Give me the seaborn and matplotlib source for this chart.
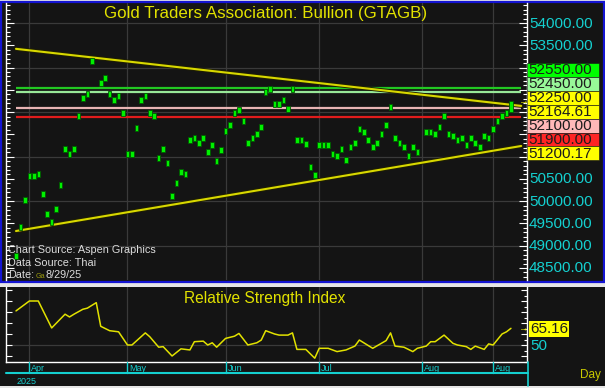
import numpy as np
import pandas as pd
import matplotlib
matplotlib.use("Agg")
import matplotlib.pyplot as plt
import matplotlib.patheffects as pe
from matplotlib.patches import Rectangle
from matplotlib.ticker import MultipleLocator
import seaborn as sns

# ---------------- data ----------------
dates = pd.bdate_range("2025-03-27", "2025-08-29")
nan = np.nan
price_mid = [48770, 49420, 50030, 50570, 50570, 50610, 50160, 49710, 49530, 49820,
             50360, 51170, 51060, 51170, 51910, 52320, 52410, 53150, 54550, 52650,
             52770, 52410, 52270, 52360, 51980, 51060, 51060, 51640, 52270, 52360,
             51980, 51910, 50970, 51170, 50860, 50120, 50410, 50660, 50610, 51370,
             51420, 51310, 51420, 51100, 51260, 50900, 51150, 51580, 51710, 51980,
             52050, 51800, 51310, 51420, 51510, 51670, 52450, 52520, 52180, 52180,
             52270, 52070, 52520, 51370, 51370, 51280, 50770, 50590, 51260, 51260,
             51260, 51060, 51010, 51170, 50920, 51220, 51310, 51620, 51550, 51370,
             51220, 51310, 51510, 51710, 52110, 51420, 51310, 51220, 51010, 51220,
             51100, nan, 51550, 51550, 51510, 51670, 51910, 51510, 51460, 51370,
             51420, 51260, 51420, 51310, 51220, 51460, 51420, 51620, 51800, 51910,
             51980, 52125]
last_bar_low, last_bar_high = 52000, 52250

upper_trend = [53420, 52164.61]   # at first and last bar
lower_trend = [49330, 51200.17]

level_values = [52550, 52450, 52100, 51900]
level_colors = ["#22c822", "#98e898", "#e8b4b4", "#e01c1c"]

tag_values = [52550.00, 52450.00, 52250.00, 52164.61, 52100.00, 51900.00, 51200.17]
tag_colors = ["#00ff00", "#98f898", "#ffff00", "#ffff00", "#ffb8b8", "#ff2424", "#ffff00"]

axis_labels = [54000, 53500, 50500, 50000, 49500, 49000, 48500]
grid_prices = [49000, 50000, 51000, 52000, 53000, 54000]

rsi_days = [0, 3, 5, 8, 11, 12, 13, 15, 16, 18, 19, 21, 23, 25, 26, 29, 30, 32, 33, 35,
            37, 39, 40, 42, 43, 44, 45, 47, 49, 50, 52, 54, 55, 56, 58, 59, 61, 62, 63, 65,
            67, 68, 70, 72, 74, 76, 77, 78, 80, 83, 84, 85, 87, 89, 90, 92, 93, 94, 96, 98,
            99, 101, 102, 103, 105, 106, 107, 109, 110, 111]
rsi_values = [81, 90, 90, 65.5, 78, 75.5, 78, 82.5, 83.5, 88.5, 67, 63, 62, 50, 50, 61, 57.5, 48, 48.5, 40,
              46.5, 45.5, 53, 53.5, 50, 52, 48, 56, 58, 60.5, 50, 52, 54.5, 63, 60, 59, 59, 61, 46, 46,
              38, 47, 47, 44, 45.5, 49, 54.5, 52, 47, 54, 61, 49, 48, 44, 47, 49, 53, 53, 59, 51.5,
              50, 48.5, 46, 49, 46, 51, 50, 60, 62, 65.16]
rsi_last = 65.16

month_days = [3, 25, 47, 68, 91, 107]
month_labels = ["Apr", "May", "Jun", "Jul", "Aug", "Aug"]
year_label = "2025"

title = "Gold Traders Association: Bullion (GTAGB)"
rsi_title = "Relative Strength Index"
source_lines = ["Chart Source: Aspen Graphics", "Data Source: Thai"]
date_label, date_value, overlay_fragment = "Date:", "8/29/25", "Ga"

# ---------------- style / layout ----------------
sns.set_style("dark")
plt.rcParams["font.family"] = ["Liberation Sans", "DejaVu Sans"]

W, H = 605, 388
BG = "#141414"
GRID = "#3a3a3a"
YEL = "#e2e200"
CYAN = "#14d0d0"
LABEL_FS = 11

def frac(x0, y0, x1, y1):
    return [x0 / W, 1 - y1 / H, (x1 - x0) / W, (y1 - y0) / H]

def price_at_px(y):
    return 54000 - (y - 23) / 0.044545

def slot_at_px(x):
    return (x - 16) / 4.459

def rsi_at_px(y):
    return 50 + (345 - y) / 1.1

fig = plt.figure(figsize=(W / 100, H / 100), dpi=100)
fig.patch.set_facecolor("#e6e6e6")

bg = fig.add_axes([0, 0, 1, 1], zorder=-5)
bg.set_xlim(0, W); bg.set_ylim(H, 0); bg.axis("off")
bg.add_patch(Rectangle((0, 0.5), W, 282.5, fc=BG, ec="none"))
bg.add_patch(Rectangle((0, 287), W, 98.5, fc=BG, ec="none"))
bg.add_patch(Rectangle((1, 1.8), W - 2.5, 280.2, fill=False, ec="#1414d2", lw=1.6))

# ---- main price panel ----
ax = fig.add_axes(frac(6, 3, 527, 280))
ax.set_facecolor("none")
ax.set_xlim(slot_at_px(6), slot_at_px(527))
ax.set_ylim(price_at_px(280), price_at_px(3))

x = np.arange(len(dates))
for d in month_days:
    ax.axvline(d, color=GRID, lw=0.9, zorder=0)
for g in grid_prices:
    ax.axhline(g, color=GRID, lw=0.9, zorder=0)

ax.hlines(level_values, 0, 113.3, colors=level_colors, lw=1.6, zorder=2)

ext = np.array([0, 113.3])
for tl in (upper_trend, lower_trend):
    slope = (tl[1] - tl[0]) / (len(dates) - 1)
    ax.plot(ext, tl[0] + slope * ext, color="#d8d800", lw=1.5, zorder=3,
            path_effects=[pe.Stroke(linewidth=2.8, foreground="#202000"), pe.Normal()])

mid = np.array(price_mid, dtype=float)
body = np.full(len(mid), 130.0)
lo = mid - body / 2
lo[-1] = last_bar_low
body[-1] = last_bar_high - last_bar_low
ok = ~np.isnan(mid)
ax.bar(x[ok], body[ok], bottom=lo[ok], width=0.8, color="#00f000",
       edgecolor="#005a00", linewidth=0.6, zorder=4)

ax.yaxis.set_major_locator(MultipleLocator(500))
ax.yaxis.set_minor_locator(MultipleLocator(100))
ax.tick_params(axis="y", which="both", direction="in", left=True, right=True,
               labelleft=False, labelright=False, colors="white", width=0.8)
ax.tick_params(axis="y", which="major", length=6)
ax.tick_params(axis="y", which="minor", length=3)
ax.tick_params(axis="x", which="both", bottom=False, labelbottom=False)
for s in ("top", "bottom"):
    ax.spines[s].set_visible(False)
for s in ("left", "right"):
    ax.spines[s].set_color("white"); ax.spines[s].set_linewidth(1.0)
ax.grid(False)

# ---- RSI panel ----
axs = fig.add_axes(frac(6, 287, 527, 362))
axs.set_facecolor("none")
axs.set_xlim(slot_at_px(6), slot_at_px(527))
axs.set_ylim(rsi_at_px(362), rsi_at_px(287))
for d in month_days:
    axs.axvline(d, color=GRID, lw=0.9, zorder=0)
axs.axhline(50, color=GRID, lw=0.9, zorder=0)
sns.lineplot(x=rsi_days, y=rsi_values, ax=axs, color=YEL, linewidth=1.1, zorder=3)
axs.set_xlabel(""); axs.set_ylabel("")
axs.yaxis.set_major_locator(MultipleLocator(10))
axs.yaxis.set_minor_locator(MultipleLocator(5))
axs.tick_params(axis="y", which="both", direction="in", left=True, right=True,
                labelleft=False, labelright=False, colors="white", width=0.8)
axs.tick_params(axis="y", which="major", length=4)
axs.tick_params(axis="y", which="minor", length=2.5, left=False)
axs.tick_params(axis="x", which="both", bottom=False, labelbottom=False)
axs.spines["top"].set_visible(False)
for s in ("left", "right", "bottom"):
    axs.spines[s].set_color("white"); axs.spines[s].set_linewidth(1.0)
axs.grid(False)

# ---- overlay for texts (pixel coordinates) ----
ov = fig.add_axes([0, 0, 1, 1], zorder=10)
ov.set_xlim(0, W); ov.set_ylim(H, 0); ov.axis("off")

def to_px(axis, xv, yv):
    dx, dy = axis.transData.transform((xv, yv))
    return dx, H - dy

ov.text(266, 13.5, title, color=YEL, fontsize=12.2, ha="center", va="center")
ov.text(265, 298, rsi_title, color=YEL, fontsize=11.2, ha="center", va="center")

for i, line in enumerate(source_lines):
    ov.text(8, 250 + i * 12.5, line, color="#dcdcdc", fontsize=7.8, va="center")
ov.text(8, 275, date_label, color="#dcdcdc", fontsize=7.8, va="center")
ov.text(35.5, 276, overlay_fragment, color="#9a9a10", fontsize=5.2, va="center")
ov.text(46, 275, date_value, color="#dcdcdc", fontsize=7.8, va="center")

for v in axis_labels:
    _, yy = to_px(ax, 0, v)
    ov.text(529, yy + 0.5, f"{v:.2f}", color=CYAN, fontsize=LABEL_FS, va="center", ha="left")

TAG_TOP, TAG_H = 63, 13.9
for i, (v, c) in enumerate(zip(tag_values, tag_colors)):
    y0 = TAG_TOP + i * TAG_H
    ov.add_patch(Rectangle((527, y0), 72, TAG_H, fc=c, ec=BG, lw=0.4, zorder=2))
    ov.text(528.5, y0 + TAG_H / 2 + 0.5, f"{v:.2f}", color="#1c1c1c",
            fontsize=LABEL_FS, va="center", zorder=3)

# arrows at last values
px_last, py_last = to_px(ax, 112.6, tag_values[2])
ov.text(px_last, py_last, "→", color=YEL, fontsize=7, va="center", ha="left")
px_r, py_r = to_px(axs, 112.6, rsi_last)
ov.text(px_r, py_r, "→", color=YEL, fontsize=7, va="center", ha="left")

# RSI labels
ov.text(530, py_r + 0.5, f"{rsi_last:.2f}", color="#1c1c1c", fontsize=LABEL_FS, va="center",
        bbox=dict(fc="#ffff00", ec="none", boxstyle="square,pad=0.08"))
_, py50 = to_px(axs, 0, 50)
ov.text(530, py50 + 0.5, "50", color=CYAN, fontsize=LABEL_FS, va="center")
ov.text(580, 375, "Day", color="#c8c800", fontsize=8.5, va="center")

# x-axis band
ov.plot([6, 528], [373, 373], color=CYAN, lw=1.5)
ov.plot([528, 528], [362, 386], color=CYAN, lw=1.2)
for d, lab in zip(month_days, month_labels):
    xx, _ = to_px(ax, d, 0)
    ov.plot([xx, xx], [362, 373], color=CYAN, lw=1.0)
    ov.text(xx + 2, 368.5, lab, color=CYAN, fontsize=6.5, va="center", ha="left")
ov.text(17, 381, year_label, color=CYAN, fontsize=6.5, va="center", ha="left")

fig.savefig("out.png", dpi=100, facecolor=fig.get_facecolor())
